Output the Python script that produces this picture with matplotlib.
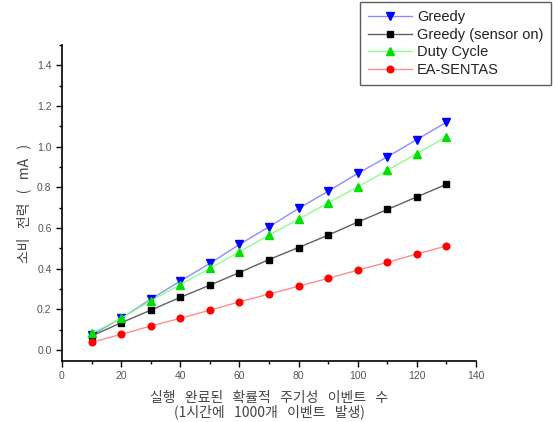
import numpy as np
import matplotlib.pyplot as plt
from matplotlib.ticker import MultipleLocator

# event counts (x axis)
events = [10, 20, 30, 40, 50, 60, 70, 80, 90, 100, 110, 120, 130]

greedy = [0.074, 0.156, 0.250, 0.339, 0.426, 0.519, 0.606, 0.696, 0.781, 0.868, 0.950, 1.035, 1.120]
greedy_sensor = [0.069, 0.134, 0.196, 0.259, 0.319, 0.381, 0.445, 0.504, 0.565, 0.629, 0.691, 0.753, 0.815]
duty_cycle = [0.082, 0.156, 0.242, 0.322, 0.401, 0.483, 0.565, 0.643, 0.724, 0.802, 0.884, 0.966, 1.048]
ea_sentas = [0.038, 0.077, 0.118, 0.156, 0.196, 0.237, 0.275, 0.314, 0.352, 0.393, 0.431, 0.472, 0.512]

labels = ['Greedy', 'Greedy (sensor on)', 'Duty Cycle', 'EA-SENTAS']

fig = plt.figure(figsize=(5.55, 4.22), dpi=100)
ax = fig.add_axes([0.1117, 0.1445, 0.746, 0.749])

lines = []
lines += ax.plot(events, greedy, color='#8c8cff', lw=1, marker='v', ms=5.5,
                 mfc='#0000ff', mec='#0000ff')
lines += ax.plot(events, greedy_sensor, color='#606060', lw=1, marker='s', ms=4.3,
                 mfc='black', mec='black')
lines += ax.plot(events, duty_cycle, color='#8cff8c', lw=1, marker='^', ms=5.5,
                 mfc='#00e000', mec='#00e000')
lines += ax.plot(events, ea_sentas, color='#ff8c8c', lw=1, marker='o', ms=4.8,
                 mfc='#ff0000', mec='#ff0000')

ax.set_xlim(0, 140)
ax.set_ylim(-0.054, 1.5)
ax.xaxis.set_major_locator(MultipleLocator(20))
ax.xaxis.set_minor_locator(MultipleLocator(10))
ax.yaxis.set_major_locator(MultipleLocator(0.2))
ax.yaxis.set_minor_locator(MultipleLocator(0.1))
ax.yaxis.set_major_formatter(plt.FormatStrFormatter('%.1f'))

for s in ['top', 'right']:
    ax.spines[s].set_visible(False)
for s in ['left', 'bottom']:
    ax.spines[s].set_linewidth(1.2)

ax.tick_params(which='major', direction='out', length=4, width=1,
               labelsize=7.5, labelcolor='#555555')
ax.tick_params(which='minor', direction='out', length=2.5, width=1)
for t in ax.get_xticklabels() + ax.get_yticklabels():
    t.set_family('Liberation Sans')

kfont = ['Noto Sans CJK KR', 'DejaVu Sans']
ax.set_ylabel('소비   전력   (   mA   )', family=kfont, fontsize=10, color='#444444', labelpad=4)
ax.set_xlabel('실행   완료된   확률적   주기성   이벤트   수\n(1시간에   1000개   이벤트   발생)',
              family=kfont, fontsize=10, color='#444444', labelpad=7, linespacing=0.95)

leg = fig.legend(lines, labels, loc='upper left', bbox_to_anchor=(0.649, 0.995),
                 frameon=True, fancybox=False, handlelength=3.0, handletextpad=0.35,
                 borderpad=0.55, labelspacing=0.25, borderaxespad=0,
                 prop={'family': 'Liberation Sans', 'size': 10.5})
leg.get_frame().set_edgecolor('#333333')
leg.get_frame().set_linewidth(1)
for t in leg.get_texts():
    t.set_color('#222222')

fig.savefig('out.png', dpi=100)
